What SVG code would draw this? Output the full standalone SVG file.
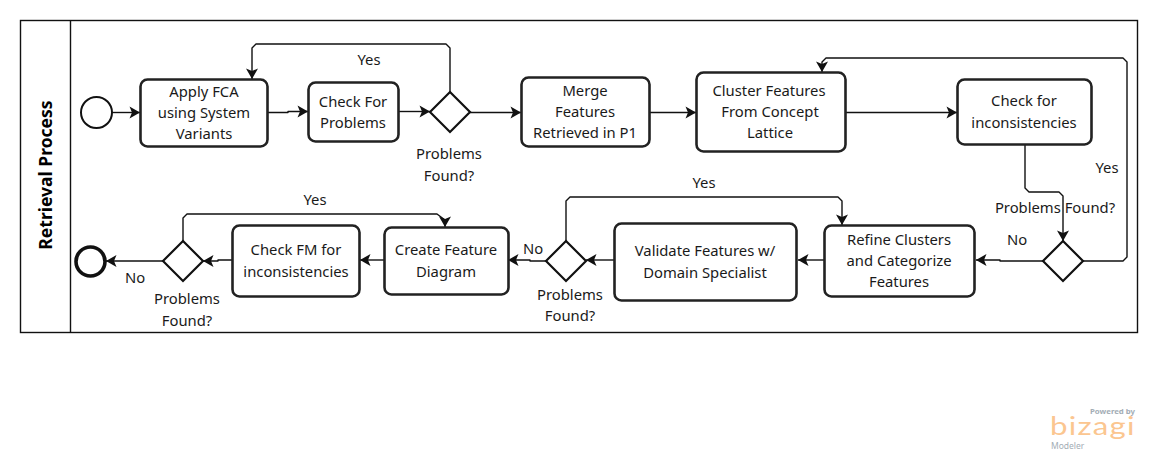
<svg xmlns="http://www.w3.org/2000/svg" width="1157" height="461" viewBox="0 0 1157 461">
<style>
.t{font-family:"Noto Sans","Open Sans","Liberation Sans",sans-serif;font-size:14.8px;fill:#1a1a1a;text-anchor:middle}
.b{fill:#fff;stroke:#222;stroke-width:2.6}
.d{fill:#fff;stroke:#111;stroke-width:2.2}
.c{fill:none;stroke:#111;stroke-width:1.4;stroke-linejoin:round;marker-end:url(#a)}
.p{fill:none;stroke:#111;stroke-width:1.4}
.l{font-family:"Noto Sans","Open Sans",sans-serif;fill:#a3adb5;text-anchor:start}
</style>
<defs>
<marker id="a" markerUnits="userSpaceOnUse" markerWidth="14" markerHeight="14" refX="12" refY="7" orient="auto">
<path d="M1.500 1 L12 7 L1.500 13 L4 7 Z" fill="#111"/>
</marker>
</defs>
<rect width="1157" height="461" fill="#fff"/>
<g id="pool">
<rect class="p" x="20.500" y="20.500" width="1117" height="312"/>
<path class="p" d="M70.500 20.500V332.500"/>
<text x="0" y="0" transform="translate(52,175) rotate(-90)" style="font-family:'Noto Sans','Open Sans',sans-serif;font-size:17.500px;font-weight:700;text-anchor:middle;fill:#000">Retrieval Process</text>
</g>
<g id="connectors">
<path class="c" d="M112 112.500H140"/>
<path class="c" d="M268 112.500H288V111.500H308"/>
<path class="c" d="M399 111.500H430"/>
<path class="c" d="M450 92V48L446 44H256L252 48V79"/>
<path class="c" d="M470 112.500H521"/>
<path class="c" d="M650 112.500H696"/>
<path class="c" d="M846 112.500H957"/>
<path class="c" d="M1025 145V188L1029 192H1059L1063 196V241"/>
<path class="c" d="M1083 261H1123L1127 257V62L1123 58H826L822 62V72"/>
<path class="c" d="M1043 261H1000V260H976"/>
<path class="c" d="M826 260H798"/>
<path class="c" d="M615 260H586"/>
<path class="c" d="M566 241V201L570 197H838L842 201V225"/>
<path class="c" d="M546 261H530V260H508"/>
<path class="c" d="M384 260H360"/>
<path class="c" d="M232 260H218V261H203"/>
<path class="c" d="M183 241V218L187 214H437L445 220V227"/>
<path class="c" d="M163 261H106"/>
</g>
<g id="start"><circle cx="96.500" cy="112.500" r="15.500" fill="#fff" stroke="#111" stroke-width="2"/></g>
<g id="task-apply-fca"><rect class="b" x="140.500" y="79.500" width="127" height="67" rx="7"/><text class="t" x="204" y="97">Apply FCA</text><text class="t" x="204" y="118">using System</text><text class="t" x="204" y="139">Variants</text></g>
<g id="task-check-problems"><rect class="b" x="308.500" y="82.500" width="90" height="59" rx="7"/><text class="t" x="353" y="107">Check For</text><text class="t" x="353" y="128">Problems</text></g>
<g id="gw-1"><path class="d" d="M450 92L470 112L450 132L430 112Z"/><text class="t" x="449" y="159">Problems</text><text class="t" x="449" y="181">Found?</text><text class="t" x="369" y="65">Yes</text></g>
<g id="task-merge"><rect class="b" x="521.500" y="77.500" width="128" height="69" rx="7"/><text class="t" x="585" y="96">Merge</text><text class="t" x="585" y="117">Features</text><text class="t" x="585" y="138">Retrieved in P1</text></g>
<g id="task-cluster"><rect class="b" x="696.500" y="72.500" width="149" height="79" rx="7"/><text class="t" x="769" y="96">Cluster Features</text><text class="t" x="770" y="117">From Concept</text><text class="t" x="770" y="138">Lattice</text></g>
<g id="task-check-inconsistencies"><rect class="b" x="957.500" y="79.500" width="134" height="65" rx="7"/><text class="t" x="1024" y="106">Check for</text><text class="t" x="1024" y="128">inconsistencies</text></g>
<g id="gw-2"><path class="d" d="M1063 241L1083 261L1063 281L1043 261Z"/><text class="t" x="1055" y="213">Problems Found?</text><text class="t" x="1107" y="173">Yes</text><text class="t" x="1017" y="245">No</text></g>
<g id="task-refine"><rect class="b" x="824.500" y="225.500" width="150" height="71" rx="7"/><text class="t" x="899" y="245">Refine Clusters</text><text class="t" x="899" y="266">and Categorize</text><text class="t" x="899" y="287">Features</text></g>
<g id="task-validate"><rect class="b" x="614.500" y="223.500" width="182" height="77" rx="7"/><text class="t" x="705" y="256">Validate Features w/</text><text class="t" x="705" y="278">Domain Specialist</text></g>
<g id="gw-3"><path class="d" d="M566 241L586 261L566 281L546 261Z"/><text class="t" x="570" y="300">Problems</text><text class="t" x="570" y="321">Found?</text><text class="t" x="704" y="188">Yes</text><text class="t" x="533" y="254">No</text></g>
<g id="task-create-fd"><rect class="b" x="384.500" y="227.500" width="124" height="67" rx="7"/><text class="t" x="446" y="255">Create Feature</text><text class="t" x="446" y="277">Diagram</text></g>
<g id="task-check-fm"><rect class="b" x="232.500" y="225.500" width="127" height="71" rx="7"/><text class="t" x="296" y="255">Check FM for</text><text class="t" x="296" y="277">inconsistencies</text></g>
<g id="gw-4"><path class="d" d="M183 241L203 261L183 281L163 261Z"/><text class="t" x="187" y="304">Problems</text><text class="t" x="187" y="326">Found?</text><text class="t" x="315" y="205">Yes</text><text class="t" x="135" y="283">No</text></g>
<g id="end"><circle cx="90.500" cy="261.500" r="14.500" fill="#fff" stroke="#111" stroke-width="3.600"/></g>
<g id="logo">
<text class="l" x="1090" y="414" font-size="7.800" font-weight="700">Powered by</text>
<text transform="translate(1050,435) scale(1.25,1)" x="0" y="0" style="font-family:'Lato','Noto Sans',sans-serif;font-size:25px;fill:#fbc690;font-weight:400;letter-spacing:1px">bizagi</text>
<text class="l" x="1051" y="449" font-size="8.500">Modeler</text>
</g>
</svg>
